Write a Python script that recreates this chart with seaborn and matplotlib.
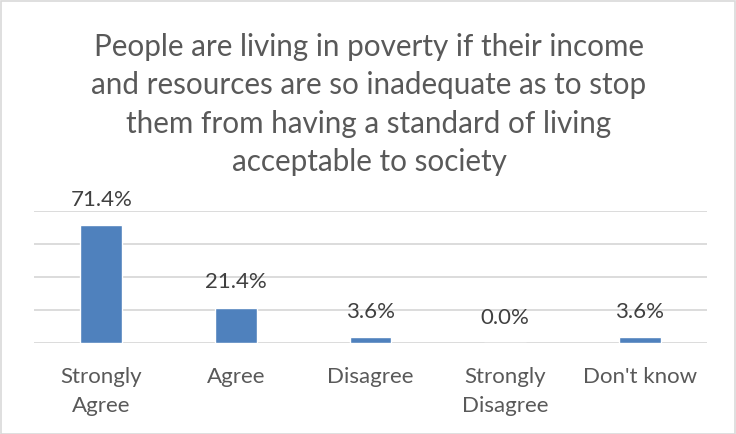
import matplotlib
matplotlib.use("Agg")
import matplotlib.pyplot as plt
import seaborn as sns
import pandas as pd

# Survey responses (percent of respondents)
categories = ["Strongly\nAgree", "Agree", "Disagree", "Strongly\nDisagree", "Don't know"]
percentages = [71.4, 21.4, 3.6, 0.0, 3.6]
y_ticks = [0, 20, 40, 60, 80]
title = ("People are living in poverty if their income\n"
         "and resources are so inadequate as to stop\n"
         "them from having a standard of living\n"
         "acceptable to society")

sns.set_theme(style="white")
plt.rcParams["font.family"] = ["Lato", "DejaVu Sans"]

text_grey = "#595959"
grid_grey = "#D9D9D9"
bar_blue = "#4F81BD"

df = pd.DataFrame({"response": categories, "pct": percentages})

fig = plt.figure(figsize=(7.36, 4.34), dpi=100)
W, H = 736, 434
ax = fig.add_axes([34 / W, (H - 343) / H, (707 - 34) / W, (343 - 211) / H])

sns.barplot(data=df, x="response", y="pct", color=bar_blue, width=0.31,
            saturation=1, ax=ax, zorder=3)

ax.set_ylim(0, 80)
ax.set_yticks(y_ticks)
ax.yaxis.grid(True, color=grid_grey, linewidth=1.3, zorder=0)
ax.tick_params(axis="y", left=False, labelleft=False)
ax.tick_params(axis="x", bottom=False, labelsize=16, colors=text_grey, pad=11)
for lbl in ax.get_xticklabels():
    lbl.set_linespacing(1.6)
ax.set_xlabel("")
ax.set_ylabel("")
for side in ["top", "right", "left", "bottom"]:
    ax.spines[side].set_visible(False)
ax.set_axisbelow(True)

for patch, val in zip(ax.patches, percentages):
    ax.annotate(f"{val:.1f}%", (patch.get_x() + patch.get_width() / 2, val),
                xytext=(0, 11), textcoords="offset points",
                ha="center", va="bottom", fontsize=16, color="#404040")

fig.text(369 / W, 1 - 33 / H, title, ha="center", va="top",
         fontsize=21.3, color=text_grey, linespacing=1.45)

# light chart-area border
fig.patches.append(plt.Rectangle((0.5 / W, 0.5 / H), 1 - 1.5 / W, 1 - 1.5 / H,
                                 transform=fig.transFigure, fill=False,
                                 edgecolor=grid_grey, linewidth=1.2))

fig.savefig("out.png", dpi=100)
